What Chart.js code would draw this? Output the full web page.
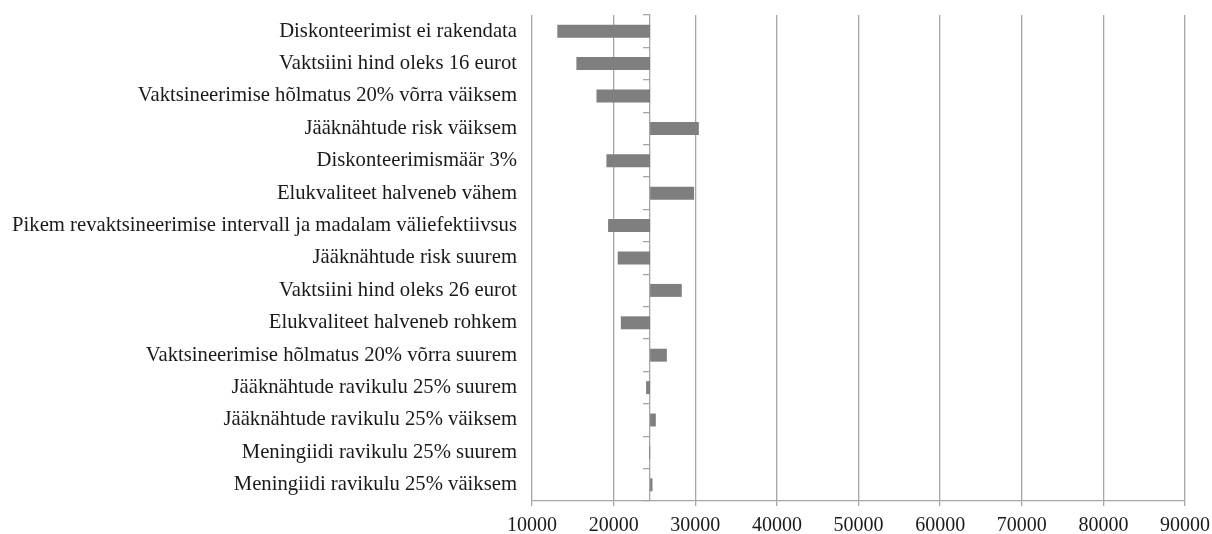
<!DOCTYPE html>
<html>
<head>
<meta charset="utf-8">
<script src="https://cdn.jsdelivr.net/npm/chart.js@4/dist/chart.umd.min.js"></script>
<style>
html,body{margin:0;padding:0;background:#fff;}
#wrap{width:1212px;height:534px;position:relative;}
</style>
</head>
<body>
<div id="wrap"><canvas id="c"></canvas></div>
<script>
const categories = [
  "Diskonteerimist ei rakendata",
  "Vaktsiini hind oleks 16 eurot",
  "Vaktsineerimise hõlmatus 20% võrra väiksem",
  "Jääknähtude risk väiksem",
  "Diskonteerimismäär 3%",
  "Elukvaliteet halveneb vähem",
  "Pikem revaktsineerimise intervall ja madalam väliefektiivsus",
  "Jääknähtude risk suurem",
  "Vaktsiini hind oleks 26 eurot",
  "Elukvaliteet halveneb rohkem",
  "Vaktsineerimise hõlmatus 20% võrra suurem",
  "Jääknähtude ravikulu 25% suurem",
  "Jääknähtude ravikulu 25% väiksem",
  "Meningiidi ravikulu 25% suurem",
  "Meningiidi ravikulu 25% väiksem"
];
const baseValue = 24470;
const scenarioValues = [13100, 15440, 17900, 30440, 19120, 29860, 19320, 20500, 28350, 20880, 26520, 23980, 25170, 24350, 24760];
const xTicks = [10000, 20000, 30000, 40000, 50000, 60000, 70000, 80000, 90000];

const gridColor = '#a6a6a6';
const fontFam = '"Liberation Serif", "Times New Roman", serif';

new Chart(document.getElementById('c'), {
  type: 'bar',
  data: {
    labels: categories,
    datasets: [{
      data: scenarioValues.map(v => [baseValue, v]),
      backgroundColor: '#7f7f7f',
      borderWidth: 0,
      barPercentage: 0.4,
      categoryPercentage: 1.0,
      yAxisID: 'y'
    }]
  },
  options: {
    indexAxis: 'y',
    responsive: true,
    maintainAspectRatio: false,
    animation: false,
    layout: { padding: { left: 0, right: 27, top: 15, bottom: 0 } },
    plugins: { legend: { display: false }, tooltip: { enabled: false } },
    scales: {
      x: {
        type: 'linear',
        min: xTicks[0],
        max: xTicks[xTicks.length - 1],
        afterBuildTicks: s => { s.ticks = xTicks.map(v => ({ value: v })); },
        afterFit: s => { s.height = 33; s.paddingLeft = 0; s.paddingRight = 0; },
        grid: { color: gridColor, lineWidth: 1.3, tickLength: 5 },
        border: { color: gridColor, width: 1.3 },
        ticks: { color: '#1a1a1a', font: { family: fontFam, size: 20 }, padding: 8, maxRotation: 0,
                 callback: v => String(v) }
      },
      y: {
        type: 'category',
        position: 'left',
        offset: true,
        afterFit: s => { s.width = 532; s.paddingTop = 0; s.paddingBottom = 0; },
        grid: { display: false, drawTicks: false },
        border: { display: false },
        ticks: { color: '#1a1a1a', font: { family: fontFam, size: 20.7 }, padding: 15, autoSkip: false }
      },
      yLine: {
        type: 'category',
        position: { x: baseValue },
        offset: true,
        grid: { offset: true, drawOnChartArea: false, tickLength: 6, color: gridColor, lineWidth: 1.3 },
        border: { color: gridColor, width: 1.3 },
        ticks: { display: false }
      }
    }
  }
});
</script>
</body>
</html>
